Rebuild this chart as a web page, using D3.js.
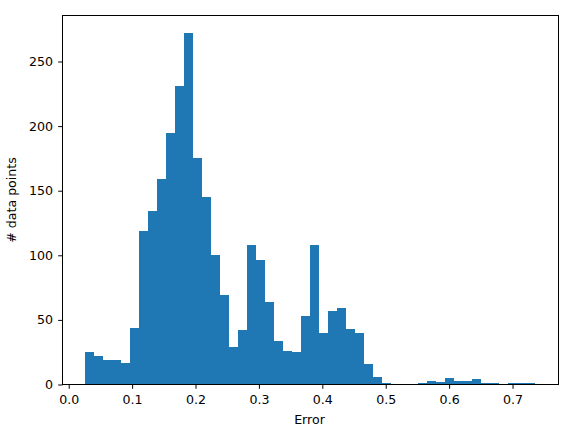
<!DOCTYPE html>
<html>
<head>
<meta charset="utf-8">
<script src="https://cdn.jsdelivr.net/npm/d3@7"></script>
<style>
  html, body { margin: 0; padding: 0; background: #fff; }
  svg { display: block; }
  text { font-family: "DejaVu Sans", sans-serif; }
</style>
</head>
<body>
<svg id="chart" width="567" height="429"></svg>
<script>
// ---- data ----
const binFirstEdge = 0.0257;
const binLastEdge = 0.7354;
const counts = [
  25, 22, 19, 19, 17, 44, 119, 134, 159, 195,
  231, 272, 175, 145, 100, 69, 29, 42, 108, 96,
  64, 34, 26, 25, 53, 108, 40, 57, 59, 43,
  40, 16, 6, 1, 0, 0, 0, 1, 3, 2,
  5, 3, 3, 4, 1, 1, 0, 1, 1, 1
];
const xTicks = [0.0, 0.1, 0.2, 0.3, 0.4, 0.5, 0.6, 0.7];
const yTicks = [0, 50, 100, 150, 200, 250];
const xLabel = "Error";
const yLabel = "# data points";

// ---- layout ----
const W = 567, H = 429;
const mLeft = 62.5, mRight = 558.5, mTop = 15.5, mBottom = 384.5;
const fontSize = 12.6;

const binWidth = (binLastEdge - binFirstEdge) / counts.length;
const bins = counts.map((c, i) => ({
  x0: binFirstEdge + i * binWidth,
  x1: binFirstEdge + (i + 1) * binWidth,
  count: c
}));

const x = d3.scaleLinear().domain([-0.0098, 0.7725]).range([mLeft, mRight]);
const y = d3.scaleLinear().domain([0, d3.max(counts) * 1.05]).range([mBottom, mTop]);

const svg = d3.select("#chart");

svg.append("g")
  .selectAll("rect")
  .data(bins.filter(d => d.count > 0))
  .join("rect")
  .attr("x", d => x(d.x0))
  .attr("width", d => x(d.x1) - x(d.x0))
  .attr("y", d => y(d.count))
  .attr("height", d => y(0) - y(d.count))
  .attr("fill", "#1f77b4")
  .attr("shape-rendering", "crispEdges");

const xAxis = svg.append("g")
  .attr("transform", `translate(0,${mBottom})`)
  .call(d3.axisBottom(x).tickValues(xTicks).tickFormat(d3.format(".1f"))
    .tickSize(4.3).tickPadding(6.3).tickSizeOuter(0));
const yAxis = svg.append("g")
  .attr("transform", `translate(${mLeft},0)`)
  .call(d3.axisLeft(y).tickValues(yTicks).tickFormat(d3.format("d"))
    .tickSize(4.3).tickPadding(5.2).tickSizeOuter(0));

[xAxis, yAxis].forEach(g => {
  g.select(".domain").remove();
  g.selectAll(".tick line").attr("stroke", "#000").attr("stroke-width", 1);
  g.selectAll(".tick text")
    .attr("fill", "#000")
    .style("font-family", "'DejaVu Sans', sans-serif")
    .style("font-size", fontSize + "px");
});

// frame (spines)
svg.append("rect")
  .attr("x", mLeft).attr("y", mTop)
  .attr("width", mRight - mLeft).attr("height", mBottom - mTop)
  .attr("fill", "none").attr("stroke", "#000").attr("stroke-width", 1);

// axis labels
svg.append("text")
  .attr("x", (mLeft + mRight) / 2 - 1)
  .attr("y", 424)
  .attr("text-anchor", "middle")
  .style("font-size", fontSize + "px")
  .text(xLabel);

svg.append("text")
  .attr("transform", `translate(16,${(mTop + mBottom) / 2}) rotate(-90)`)
  .attr("text-anchor", "middle")
  .style("font-size", fontSize + "px")
  .text(yLabel);
</script>
</body>
</html>
